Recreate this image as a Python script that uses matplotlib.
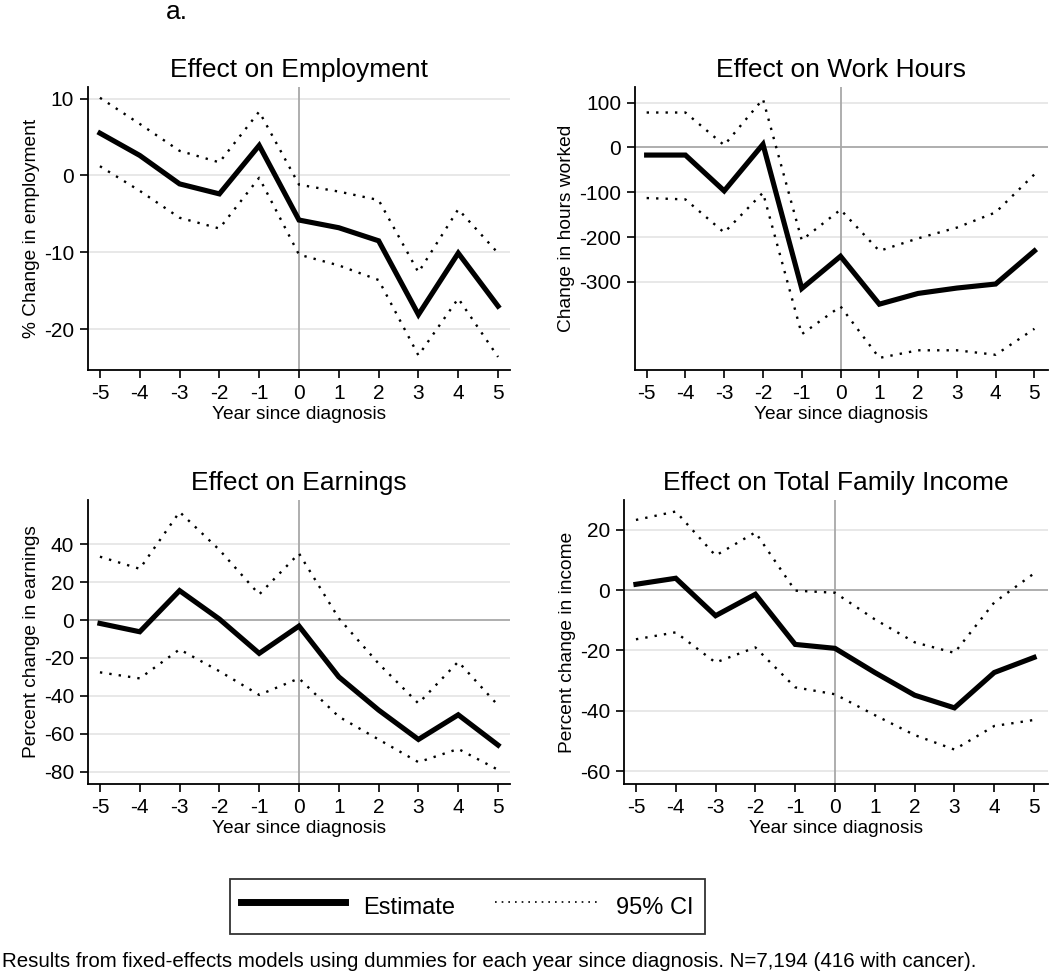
import matplotlib
matplotlib.use("Agg")
import matplotlib.pyplot as plt
from matplotlib.lines import Line2D

plt.rcParams['font.family'] = ['Liberation Sans', 'DejaVu Sans']

years = [-5, -4, -3, -2, -1, 0, 1, 2, 3, 4, 5]
xtick_labels = ["-5", "-4", "-3", "-2", "-1", "0", "1", "2", "3", "4", "5"]

emp_est = [5.5, 2.6, -1.1, -2.4, 3.9, -5.8, -6.8, -8.5, -18.1, -10.1, -17.0]
emp_hi = [10.1, 6.7, 3.2, 1.7, 8.3, -1.2, -2.1, -3.2, -12.6, -4.4, -10.1]
emp_lo = [1.2, -2.0, -5.5, -6.9, -0.3, -10.3, -11.7, -13.6, -23.4, -16.0, -23.6]

hrs_est = [-17, -17, -97, 7, -315, -243, -350, -326, -314, -305, -231]
hrs_hi = [78, 78, 5, 108, -207, -139, -231, -203, -179, -145, -60]
hrs_lo = [-113, -116, -190, -101, -417, -355, -470, -453, -453, -463, -405]

ern_est = [-1.8, -6.2, 15.5, 0.5, -17.6, -3.2, -30.0, -47.5, -63.0, -50.0, -66.0]
ern_hi = [33.4, 27.0, 57.0, 37.0, 13.5, 35.1, 0.9, -23.0, -44.0, -22.0, -45.0]
ern_lo = [-27.6, -30.8, -15.5, -27.0, -39.5, -30.8, -51.0, -63.0, -75.0, -68.0, -79.0]

inc_est = [1.9, 3.9, -8.5, -1.4, -18.0, -19.3, -27.3, -34.8, -39.0, -27.3, -22.3]
inc_hi = [23.2, 26.0, 11.4, 19.1, -0.2, -0.9, -9.7, -17.3, -20.8, -4.1, 5.5]
inc_lo = [-16.3, -14.0, -24.0, -19.0, -32.2, -34.5, -41.4, -48.0, -52.8, -45.0, -43.0]

panels = [
    dict(title="Effect on Employment", ylabel="% Change in employment",
         est=emp_est, hi=emp_hi, lo=emp_lo, yticks=[10, 0, -10, -20],
         ylim=(-25.3, 11.5), zero=False, rect=[88, 510, 87, 370]),
    dict(title="Effect on Work Hours", ylabel="Change in hours worked",
         est=hrs_est, hi=hrs_hi, lo=hrs_lo, yticks=[100, 0, -100, -200, -300],
         ylim=(-497, 135), zero=True, rect=[635, 1048, 87, 370]),
    dict(title="Effect on Earnings", ylabel="Percent change in earnings",
         est=ern_est, hi=ern_hi, lo=ern_lo, yticks=[40, 20, 0, -20, -40, -60, -80],
         ylim=(-86.5, 63.3), zero=True, rect=[88, 510, 500, 784]),
    dict(title="Effect on Total Family Income", ylabel="Percent change in income",
         est=inc_est, hi=inc_hi, lo=inc_lo, yticks=[20, 0, -20, -40, -60],
         ylim=(-64.2, 29.8), zero=True, rect=[624, 1048, 500, 784]),
]

W, H = 1050, 980
fig = plt.figure(figsize=(W / 100, H / 100), dpi=100)

for p in panels:
    l, r, t, b = p["rect"]
    ax = fig.add_axes([l / W, 1 - b / H, (r - l) / W, (b - t) / H])
    for yv in p["yticks"]:
        if p["zero"] and yv == 0:
            continue
        ax.axhline(yv, color="#e6e6e6", lw=1.3, zorder=0)
    if p["zero"]:
        ax.axhline(0, color="#a8a8a8", lw=1.3, zorder=1)
    ax.axvline(0, color="#a8a8a8", lw=1.3, zorder=1)
    ax.plot(years, p["hi"], color="black", lw=1.7, linestyle=(0, (1, 3.0)), zorder=2)
    ax.plot(years, p["lo"], color="black", lw=1.7, linestyle=(0, (1, 3.0)), zorder=2)
    ax.plot(years, p["est"], color="black", lw=3.7, solid_joinstyle="miter", zorder=3)
    ax.set_xlim(-5.3, 5.3 if l < 600 else 5.35)
    ax.set_ylim(*p["ylim"])
    ax.set_xticks(years)
    ax.set_xticklabels(xtick_labels)
    ax.set_yticks(p["yticks"])
    ax.set_yticklabels([str(v) for v in p["yticks"]])
    for s in ["top", "right"]:
        ax.spines[s].set_visible(False)
    for s in ["left", "bottom"]:
        ax.spines[s].set_linewidth(1.3)
    ax.tick_params(axis="both", direction="out", length=6, width=1.2,
                   labelsize=15, pad=4)
    ax.set_xlabel("Year since diagnosis", fontsize=13.8, labelpad=2)
    ax.set_ylabel(p["ylabel"], fontsize=13.8, labelpad=3)
    ax.set_title(p["title"], fontsize=19, pad=7)

fig.text(177 / W, 1 - 19 / H, "a.", fontsize=19, ha="center", va="baseline")

fs_leg = 17
handles = [Line2D([0], [0], color="black", lw=5),
           Line2D([0], [0], color="black", lw=1.2, linestyle=(0, (1, 3)))]
leg = fig.legend(handles, ["Estimate", "95% CI"], loc="center",
                 bbox_to_anchor=((232 + 703) / 2 / W, 1 - (874 + 939) / 2 / H),
                 ncol=2, fontsize=fs_leg, frameon=True, fancybox=False,
                 edgecolor="black", handlelength=4.4, columnspacing=1.7,
                 handletextpad=0.75, borderpad=0.45, handleheight=1.85)
leg.get_frame().set_linewidth(1.3)

fig.text(2 / W, 1 - 961 / H,
         "Results from fixed-effects models using dummies for each year since diagnosis. N=7,194 (416 with cancer).",
         fontsize=14.8, ha="left", va="center")

fig.savefig("out.png", dpi=100, facecolor="white")
